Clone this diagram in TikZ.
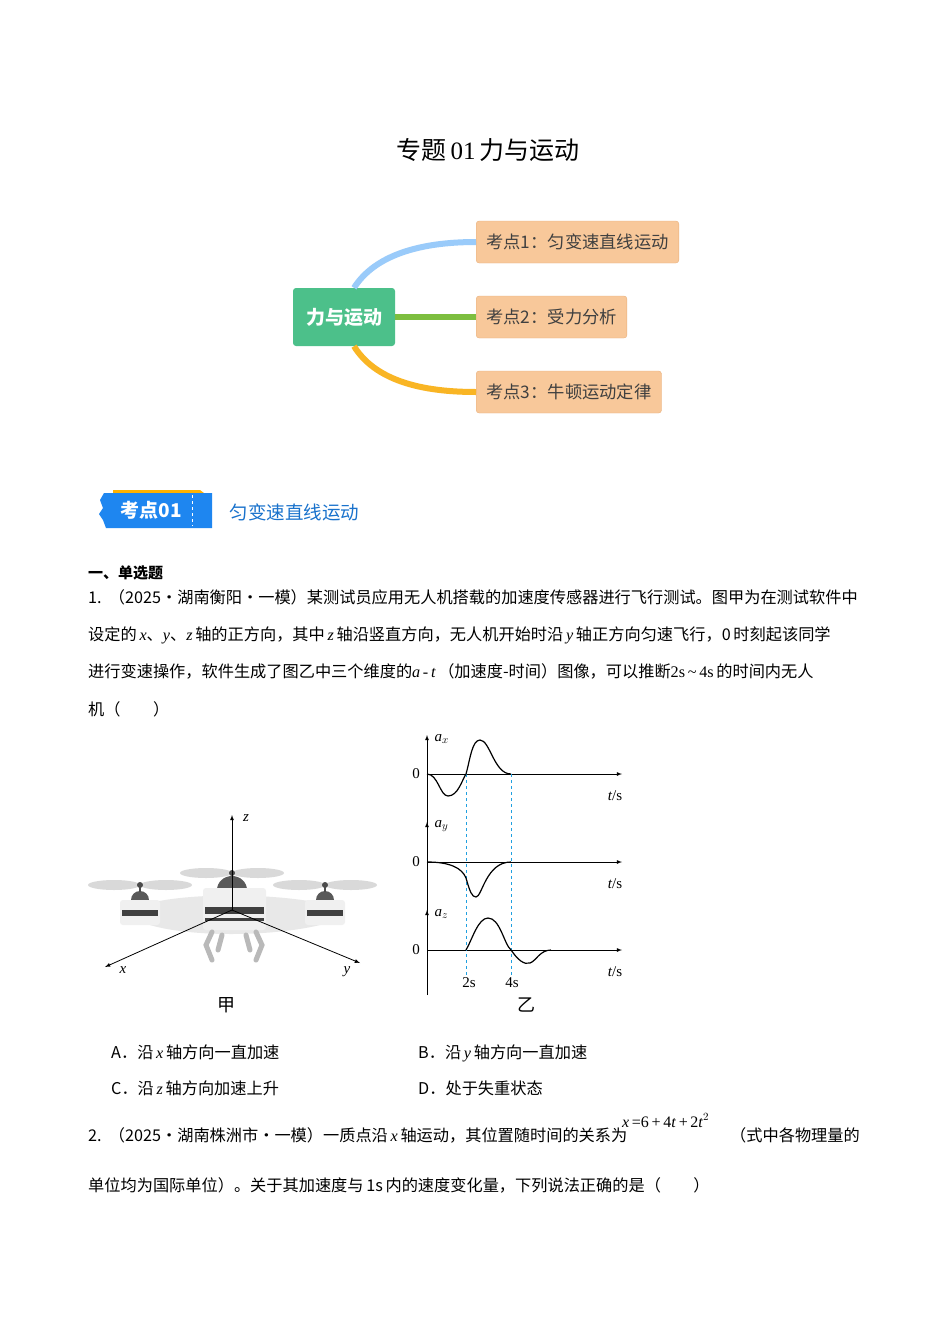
\documentclass[tikz,border=0pt]{standalone}
\usepackage{fontspec}
\setmainfont{Liberation Serif}
\newfontfamily\cjk{Noto Sans CJK SC}
\usetikzlibrary{calc}
\definecolor{topicbg}{HTML}{F8C89A}
\definecolor{topicbd}{HTML}{E8B07C}
\definecolor{rootg}{HTML}{4CC08A}
\definecolor{lblue}{HTML}{9ACBFA}
\definecolor{lgreen}{HTML}{7DBE3F}
\definecolor{lorange}{HTML}{F9B524}
\definecolor{badge}{HTML}{1E86F0}
\definecolor{dashc}{HTML}{1FA0E0}
\begin{document}
\begin{tikzpicture}[x=1pt,y=-1pt,
  txt/.style={anchor=base west,inner sep=0pt,font=\cjk\fontsize{16.2}{16.2}\selectfont},
  topic/.style={draw=topicbd,fill=topicbg,rounded corners=3pt,minimum height=42pt,inner xsep=10pt,anchor=west,font=\cjk\fontsize{17.3}{17.3}\selectfont,text=black!75},
  branch/.style={line width=6pt},
  curve/.style={line width=1.2pt},
  lab/.style={font=\fontsize{15}{15}\selectfont},
  ax/.style={line width=0.8pt,-latex}]
\useasboundingbox (0,0) rectangle (950,1344);
\fill[white] (0,0) rectangle (950,1344);
% title
\node[anchor=center,font=\cjk\fontsize{25}{25}\selectfont] (title) at (488,150) {专题\,{\fontspec{Liberation Serif}01}\,力与运动};
% mind map
\node[fill=rootg,rounded corners=3pt,minimum width=102pt,minimum height=58pt,text=white,font=\cjk\bfseries\fontsize{19}{19}\selectfont] (root) at (344,317) {力与运动};
\node[topic] (t1) at (476,242) {考点1：匀变速直线运动};
\node[topic] (t2) at (476,317) {考点2：受力分析};
\node[topic] (t3) at (476,392) {考点3：牛顿运动定律};
\draw[branch,lblue] ($(root.north)+(10,0)$) .. controls (375,255) and (420,242) .. (t1.west);
\draw[branch,lgreen] (root.east) -- (t2.west);
\draw[branch,lorange] ($(root.south)+(10,0)$) .. controls (375,380) and (420,392) .. (t3.west);
% badge
\fill[orange!60!yellow] (113,490) -- (200,490) -- (208,496) -- (113,496) -- cycle;
\fill[badge] (104,493) -- (212,493) -- (212,528) -- (106,528) -- (103,520) -- (99,514) -- (103,508) -- (100,500) -- cycle;
\draw[white,dashed,line width=0.6pt] (192,495) -- (192,526);
\node[text=white,font=\cjk\bfseries\fontsize{19}{19}\selectfont] (badgetxt) at (151,510) {考点01};
\node[anchor=west,text=badge!85!black,font=\cjk\fontsize{18.5}{18.5}\selectfont] (sect) at (226,512) {匀变速直线运动};
% text
\node[txt,font=\cjk\bfseries\fontsize{15}{15}\selectfont] (h1) at (88,578) {一、单选题};
\node[txt] (l1) at (88,603) {1.\ \ （2025·湖南衡阳·一模）某测试员应用无人机搭载的加速度传感器进行飞行测试。图甲为在测试软件中};
\node[txt] (l2) at (88,640) {设定的\,\textit{\fontspec{Liberation Serif}x}、\textit{\fontspec{Liberation Serif}y}、\textit{\fontspec{Liberation Serif}z}\,轴的正方向，其中\,\textit{\fontspec{Liberation Serif}z}\,轴沿竖直方向，无人机开始时沿\,\textit{\fontspec{Liberation Serif}y}\,轴正方向匀速飞行，0\,时刻起该同学};
\node[txt] (l3) at (88,677) {进行变速操作，软件生成了图乙中三个维度的{\fontspec{Liberation Serif}\itshape a\,-\,t}\,（加速度-时间）图像，可以推断{\fontspec{Liberation Serif}2s\,\textasciitilde\,4s}\,的时间内无人};
\node[txt] (l4) at (88,715) {机（\qquad）};
% drone
\fill[gray!18] (150,903) .. controls (190,893) and (270,893) .. (320,903) -- (320,925) .. controls (270,937) and (190,937) .. (150,925) -- cycle;
\foreach \cx in {140,325}{
  \fill[gray!30] (\cx-26,885) ellipse (26 and 5); \fill[gray!30] (\cx+26,885) ellipse (26 and 5);
  \fill[gray!70!black] (\cx-9,900) arc (180:360:9 and 9) -- cycle;
  \fill[gray!60!black] (\cx,885) circle (3);
  \draw[gray!60!black,line width=1.5pt] (\cx,885) -- (\cx,892);
  \fill[gray!12,rounded corners=3pt] (\cx-20,900) rectangle (\cx+20,925);
  \fill[black!75] (\cx-18,910) rectangle (\cx+18,916);
}
\fill[gray!30] (206,873) ellipse (26 and 5); \fill[gray!30] (258,873) ellipse (26 and 5);
\fill[gray!70!black] (217,890) arc (180:360:15 and 14) -- cycle;
\fill[gray!60!black] (232,873) circle (3);
\fill[gray!12,rounded corners=3pt] (203,888) rectangle (266,930);
\fill[black!75] (205,907) rectangle (264,914);
\fill[black!75] (205,918) rectangle (264,921);
\draw[gray!55,line width=5pt,line cap=round] (212,932) -- (206,945) -- (212,960);
\draw[gray!55,line width=5pt,line cap=round] (256,932) -- (262,945) -- (256,960);
\draw[gray!55,line width=5pt,line cap=round] (222,935) -- (218,950);
\draw[gray!55,line width=5pt,line cap=round] (246,935) -- (250,950);
\coordinate (O) at (232,910);
\coordinate (zend) at (232,815);
\coordinate (xend) at (105,967);
\coordinate (yend) at (360,963);
\draw[ax] (O) -- (zend);
\draw[ax] (O) -- (xend);
\draw[ax] (O) -- (yend);
\node[lab,font=\itshape\fontsize{15}{15}\selectfont] (zl) at (246,818) {z};
\node[lab,font=\itshape\fontsize{15}{15}\selectfont] (xl) at (123,970) {x};
\node[lab,font=\itshape\fontsize{15}{15}\selectfont] (yl) at (347,972) {y};
\node[font=\cjk\fontsize{18}{18}\selectfont] (jia) at (226,1005) {甲};
% graphs
\draw[line width=0.8pt] (427,995) -- (427,760);
\foreach \y/\t/\s in {774/735/x,862/822/y,950/910/z}{
  \draw[ax] (427,\y+10) -- (427,\t);
  \draw[ax] (427,\y) -- (622,\y);
  \node[lab] at (416,\y) {0};
  \node[lab] at (615,\y+22) {\textit{t}/s};
  \node[lab,anchor=west] at (431,\t+4) {\textit{a}$_{\scriptstyle \s}$};
}
\draw[dashc,dashed,line width=1pt] (466,774) -- (466,975);
\draw[dashc,dashed,line width=1pt] (511,774) -- (511,975);
\draw[curve] (427,774) .. controls (438,774) and (440,796) .. (448,796) .. controls (458,796) and (462,780) .. (466,774)
  .. controls (470,760) and (472,740) .. (480,740) .. controls (490,740) and (494,774) .. (511,774);
\draw[curve] (427,862) .. controls (450,862) and (462,868) .. (466,878) .. controls (470,892) and (472,897) .. (476,897)
  .. controls (482,897) and (486,862) .. (511,862);
\draw[curve] (466,950) .. controls (472,940) and (478,918) .. (488,918) .. controls (500,918) and (504,944) .. (511,950)
  .. controls (518,960) and (524,965) .. (530,963) .. controls (536,961) and (540,950) .. (551,950);
\node[lab] (t2s) at (469,983) {2s};
\node[lab] (t4s) at (512,983) {4s};
\node[font=\cjk\fontsize{18}{18}\selectfont] (yi) at (526,1005) {乙};
% options
\node[txt] (oA) at (111,1058) {A．沿\,\textit{\fontspec{Liberation Serif}x}\,轴方向一直加速};
\node[txt] (oB) at (418,1058) {B．沿\,\textit{\fontspec{Liberation Serif}y}\,轴方向一直加速};
\node[txt] (oC) at (111,1094) {C．沿\,\textit{\fontspec{Liberation Serif}z}\,轴方向加速上升};
\node[txt] (oD) at (418,1094) {D．处于失重状态};
\node[txt] (q2) at (88,1141) {2.\ \ （2025·湖南株洲市·一模）一质点沿\,\textit{\fontspec{Liberation Serif}x}\,轴运动，其位置随时间的关系为};
\node[anchor=base west,inner sep=0pt,font=\fontsize{16}{16}\selectfont] (eq) at (622,1127) {\textit{x}\,=6\,+\,4\textit{t}\,+\,2\textit{t}$^{2}$};
\node[txt] (q2b) at (730,1141) {（式中各物理量的};
\node[txt] (q2c) at (88,1191) {单位均为国际单位）。关于其加速度与\,1s\,内的速度变化量，下列说法正确的是（\qquad）};
\end{tikzpicture}
\end{document}
